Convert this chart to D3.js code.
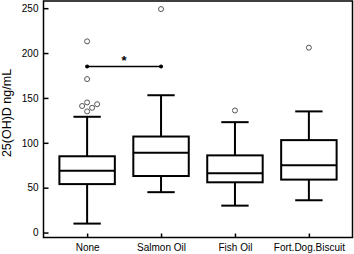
<!DOCTYPE html>
<html>
<head>
<meta charset="utf-8">
<script src="https://cdn.jsdelivr.net/npm/d3@7"></script>
<style>
  body { margin: 0; background: #fff; }
  svg { display: block; font-family: "Liberation Sans", Arial, sans-serif; }
</style>
</head>
<body>
<div id="chart"></div>
<script>
const categories = ["None", "Salmon Oil", "Fish Oil", "Fort.Dog.Biscuit"];
const whiskerLow = [10, 45, 30, 36];
const q1 = [54, 63, 56, 59];
const median = [69, 89, 66, 75];
const q3 = [85, 107, 86, 103];
const whiskerHigh = [129, 153, 123, 135];
const outliers = [[213, 171, 145, 143, 141, 139, 135], [249], [136], [206]];
const yTicks = [0, 50, 100, 150, 200, 250];
const sigPair = ["None", "Salmon Oil"];
const sigValue = 185;
const sigLabel = "*";

const width = 354, height = 254;
const margin = {top: 1, right: 1.5, bottom: 16.5, left: 43.5};

const svg = d3.select("#chart").append("svg")
    .attr("width", width)
    .attr("height", height);

const x = d3.scalePoint()
    .domain(categories)
    .range([margin.left, width - margin.right])
    .padding(0.59);

const y = d3.scaleLinear()
    .domain([-5.5, 258])
    .range([height - margin.bottom, margin.top]);

const boxW = x.step() * 0.75;
const capW = x.step() * 0.37;

// frame
svg.append("rect")
    .attr("x", margin.left)
    .attr("y", margin.top)
    .attr("width", width - margin.right - margin.left)
    .attr("height", height - margin.bottom - margin.top)
    .attr("fill", "none")
    .attr("stroke", "#000")
    .attr("stroke-width", 1.5);

// Y axis
const gy = svg.append("g")
    .attr("transform", "translate(" + margin.left + ",0)")
    .call(d3.axisLeft(y).tickValues(yTicks).tickSize(-5).tickSizeOuter(0).tickPadding(5));
gy.select(".domain").remove();
gy.selectAll(".tick line").attr("stroke-width", 1.5);
gy.selectAll("text").attr("font-size", 10).attr("fill", "#000");

// X axis
const gx = svg.append("g")
    .attr("transform", "translate(0," + (height - margin.bottom) + ")")
    .call(d3.axisBottom(x).tickSize(-4).tickSizeOuter(0).tickPadding(6));
gx.select(".domain").remove();
gx.selectAll(".tick line").attr("stroke-width", 1.5);
gx.selectAll("text").attr("font-size", 10).attr("fill", "#000");

// y label
svg.append("text")
    .attr("transform", "translate(11,113) rotate(-90)")
    .attr("text-anchor", "middle")
    .attr("font-size", 12.5)
    .text("25(OH)D ng/mL");

const boxes = categories.map((c, i) => ({
    cat: c, lo: whiskerLow[i], q1: q1[i], med: median[i], q3: q3[i], hi: whiskerHigh[i], out: outliers[i]
}));

const g = svg.append("g").attr("stroke", "#000").attr("stroke-width", 2).attr("fill", "none");

const b = g.selectAll("g.box").data(boxes).enter().append("g").attr("class", "box");

// whiskers
b.append("line")
    .attr("x1", d => x(d.cat)).attr("x2", d => x(d.cat))
    .attr("y1", d => y(d.q3)).attr("y2", d => y(d.hi));
b.append("line")
    .attr("x1", d => x(d.cat)).attr("x2", d => x(d.cat))
    .attr("y1", d => y(d.lo)).attr("y2", d => y(d.q1));
b.append("line")
    .attr("x1", d => x(d.cat) - capW / 2).attr("x2", d => x(d.cat) + capW / 2)
    .attr("y1", d => y(d.hi)).attr("y2", d => y(d.hi));
b.append("line")
    .attr("x1", d => x(d.cat) - capW / 2).attr("x2", d => x(d.cat) + capW / 2)
    .attr("y1", d => y(d.lo)).attr("y2", d => y(d.lo));
// box
b.append("rect")
    .attr("x", d => x(d.cat) - boxW / 2)
    .attr("width", boxW)
    .attr("y", d => y(d.q3))
    .attr("height", d => y(d.q1) - y(d.q3))
    .attr("fill", "#fff");
b.append("line")
    .attr("x1", d => x(d.cat) - boxW / 2).attr("x2", d => x(d.cat) + boxW / 2)
    .attr("y1", d => y(d.med)).attr("y2", d => y(d.med));

// outliers, spread sideways when they overlap
const r = 2.5;
boxes.forEach(d => {
    const placed = [];
    d.out.forEach(v => {
        const cy = y(v);
        const offsets = [0, 5, -5, 10, -10];
        let cx = x(d.cat);
        for (const o of offsets) {
            const tx = x(d.cat) + o;
            if (placed.every(p => Math.hypot(p[0] - tx, p[1] - cy) >= 2 * r + 0.5)) { cx = tx; break; }
        }
        placed.push([cx, cy]);
    });
    svg.append("g").selectAll("circle").data(placed).enter().append("circle")
        .attr("cx", p => p[0]).attr("cy", p => p[1]).attr("r", r)
        .attr("fill", "#fff").attr("stroke", "#555").attr("stroke-width", 1);
});

// significance bar
const sg = svg.append("g");
sg.append("line")
    .attr("x1", x(sigPair[0])).attr("x2", x(sigPair[1]))
    .attr("y1", y(sigValue)).attr("y2", y(sigValue))
    .attr("stroke", "#000").attr("stroke-width", 1.5);
sg.selectAll("circle").data(sigPair).enter().append("circle")
    .attr("cx", d => x(d)).attr("cy", y(sigValue)).attr("r", 2).attr("fill", "#000");
sg.append("text")
    .attr("x", (x(sigPair[0]) + x(sigPair[1])) / 2)
    .attr("y", y(sigValue) - 2)
    .attr("text-anchor", "middle")
    .attr("font-size", 13)
    .attr("font-weight", "bold")
    .text(sigLabel);
</script>
</body>
</html>
